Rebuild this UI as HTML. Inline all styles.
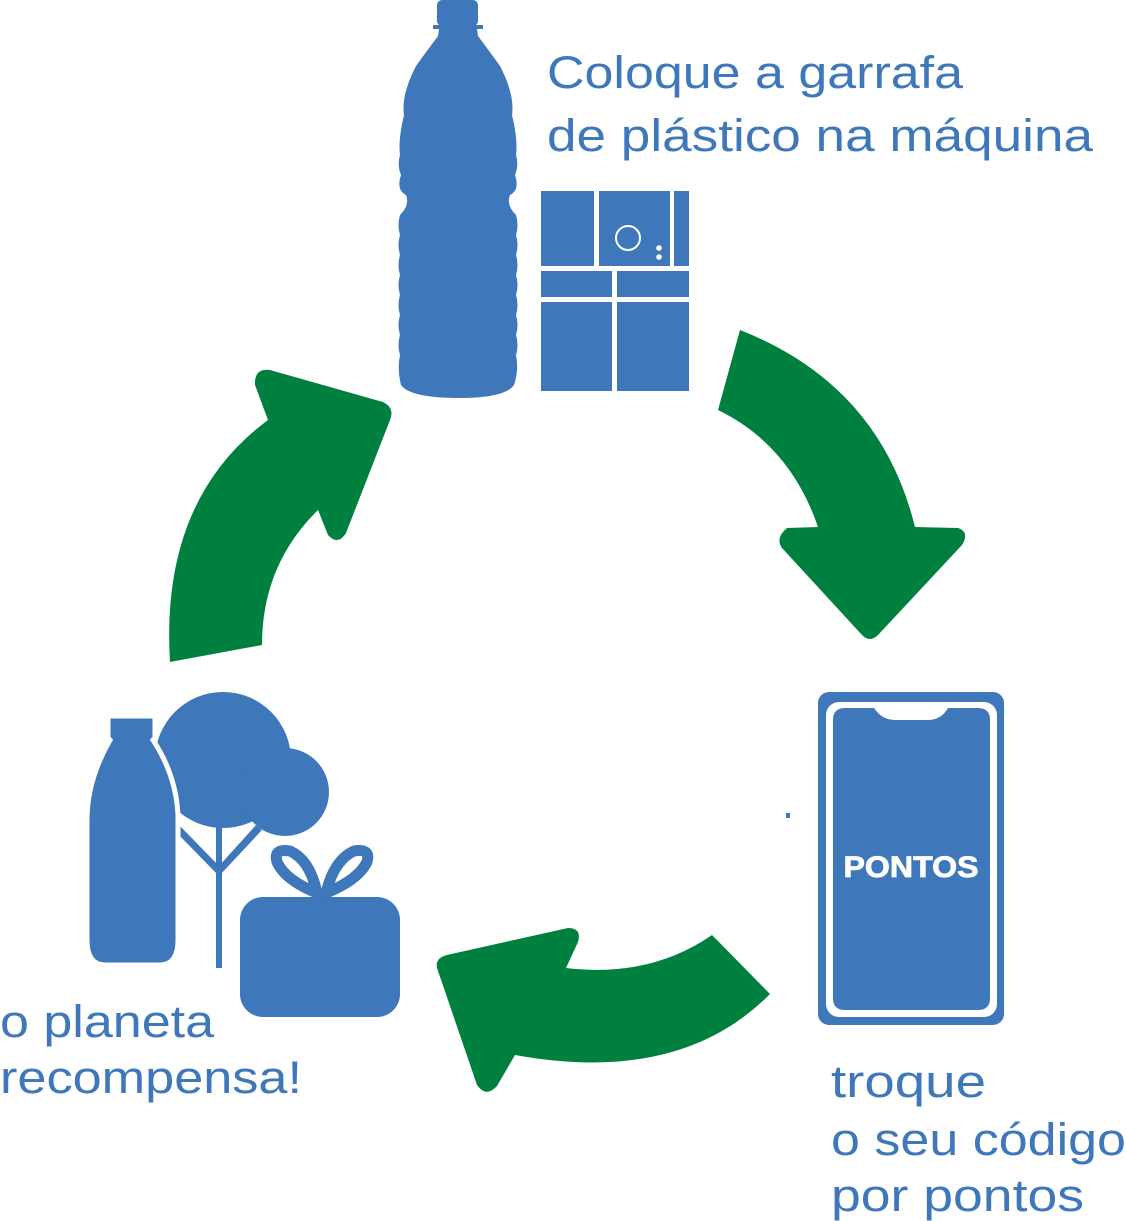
<!DOCTYPE html>
<html><head><meta charset="utf-8"><style>
html,body{margin:0;padding:0;background:#fff;}
svg{display:block;}
text{font-family:"Liberation Sans",sans-serif;}
</style></head><body>
<svg width="1127" height="1221" viewBox="0 0 1127 1221" xmlns="http://www.w3.org/2000/svg">
<g fill="#3f77bb">
<rect x="437" y="0" width="41" height="26" rx="5"/>
<rect x="433" y="25" width="50" height="4"/>
<path d="M439,29 L477,29 L478,36 Q490,52 500,66 Q515,95 512,115 Q518,140 516,155 Q519,165 515,175 Q520,190 510,195 Q506,205 516,215 Q519,225 516,235 Q519,245 516,255 Q519,265 516,275 Q519,285 516,295 Q519,305 516,315 Q519,325 516,335 Q519,345 516,355 Q519,370 514,385 Q505,398 460,398 Q410,398 401,385 Q397,370 400,355 Q397,345 400,335 Q397,325 400,315 Q397,305 400,295 Q397,285 400,275 Q397,265 400,255 Q397,245 400,235 Q397,225 400,215 Q410,205 406,195 Q396,190 401,175 Q397,165 400,155 Q398,140 404,115 Q401,95 416,66 Q426,52 438,36 Z"/>
<rect x="541" y="191" width="53" height="75"/>
<rect x="599" y="191" width="71" height="75"/>
<rect x="674" y="191" width="15" height="75"/>
<rect x="541" y="271" width="71" height="26"/>
<rect x="617" y="271" width="72" height="26"/>
<rect x="541" y="302" width="71" height="89"/>
<rect x="617" y="302" width="72" height="89"/>
</g>
<circle cx="628" cy="238" r="12" fill="none" stroke="#fff" stroke-width="2"/>
<circle cx="659" cy="248" r="2.8" fill="#fff"/>
<circle cx="659" cy="257" r="2.8" fill="#fff"/>

<g fill="#00803f">
<path d="M740,330 Q880,385 915,527 L958,528 Q970,532 962,545 L878,635 Q870,643 862,635 L782,548 Q775,538 787,528 L818,527 Q790,445 718,410 Z"/>
<path d="M170,662 Q160,500 268,420 L255,385 Q254,368 270,370 L383,402 Q395,408 390,420 L346,533 Q338,546 328,535 L318,510 Q262,565 262,645 Z"/>
<path d="M712,935 L770,994 Q680,1085 515,1055 L497,1086 Q486,1098 477,1085 L437,968 Q435,958 447,955 L568,928 Q582,928 578,942 L566,968 Q650,978 712,935 Z"/>
</g>

<rect x="818" y="692" width="186" height="333" rx="11" fill="#3f77bb"/>
<rect x="826" y="702" width="171" height="315" rx="13" fill="#fff"/>
<path d="M845,708 L874,708 Q882,720 895,720 L928,720 Q941,720 948,708 L978,708 Q990,708 990,720 L990,998 Q990,1010 978,1010 L845,1010 Q833,1010 833,998 L833,720 Q833,708 845,708 Z" fill="#3f77bb"/>
<text x="911" y="877" font-size="30" font-weight="900" fill="#fff" text-anchor="middle" textLength="135" lengthAdjust="spacingAndGlyphs" stroke="#fff" stroke-width="0.8">PONTOS</text>
<rect x="786" y="813" width="4" height="5" fill="#3f77bb"/>

<g fill="#3f77bb">
<circle cx="223" cy="760" r="68"/>
<circle cx="285" cy="792" r="44"/>
<rect x="216" y="820" width="6" height="148"/>
<path d="M176,832 L181,827 L219,866 L256,825 L262,830 L219,876 Z"/>
<path d="M108,716 L153,716 Q155,716 155,720 L155,738 L153,740 Q176,775 178,815 L178,940 Q178,965 160,965 L105,965 Q87,965 87,940 L87,820 Q87,780 110,740 L108,738 Z" stroke="#fff" stroke-width="5"/>
<rect x="240" y="897" width="160" height="120" rx="23"/>
</g>
<g fill="none" stroke="#3f77bb" stroke-width="11">
<path d="M317,893 Q285,880 277,862 Q273,848 290,851 Q310,860 317,893 Z"/>
<path d="M326,893 Q358,880 367,862 Q371,848 354,851 Q334,860 326,893 Z"/>
</g>

<g fill="#3f77bb" font-size="45">
<text x="547" y="88" textLength="416" lengthAdjust="spacingAndGlyphs">Coloque a garrafa</text>
<text x="547" y="151" textLength="546" lengthAdjust="spacingAndGlyphs">de plástico na máquina</text>
<text x="0" y="1037" textLength="214" lengthAdjust="spacingAndGlyphs">o planeta</text>
<text x="0" y="1093" textLength="302" lengthAdjust="spacingAndGlyphs">recompensa!</text>
<text x="831" y="1097" textLength="155" lengthAdjust="spacingAndGlyphs">troque</text>
<text x="831" y="1155" textLength="295" lengthAdjust="spacingAndGlyphs">o seu código</text>
<text x="831" y="1211" textLength="253" lengthAdjust="spacingAndGlyphs">por pontos</text>
</g>
</svg>
</body></html>
